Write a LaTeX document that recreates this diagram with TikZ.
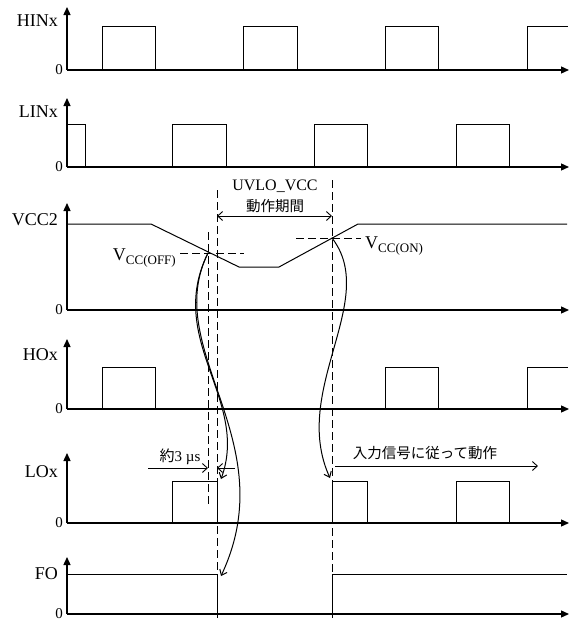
\documentclass[tikz,border=0pt]{standalone}
\usepackage{fontspec}
\setmainfont{Liberation Serif}
\newfontfamily\jp{Noto Sans CJK JP}
\usetikzlibrary{arrows.meta}
\begin{document}
\begin{tikzpicture}[x=1pt,y=-1pt,
  axis/.style={line width=1.3pt,-{Triangle[length=8pt,width=7pt]}},
  wave/.style={line width=1pt},
  guide/.style={line width=0.9pt,dash pattern=on 8pt off 4pt},
  curv/.style={line width=1pt,-{Straight Barb[length=5pt,width=8pt]}},
  dim/.style={line width=0.9pt,-{Straight Barb[length=5pt,width=9pt]}},
  sig/.style={anchor=east,inner sep=0pt,font=\fontsize{18}{20}\selectfont},
  zero/.style={anchor=east,inner sep=0pt,font=\fontsize{15}{16}\selectfont},
  jtxt/.style={inner sep=0pt,font=\jp\fontsize{14.5}{16}\selectfont},
  vlab/.style={inner sep=0pt,font=\fontsize{18}{20}\selectfont}]
\useasboundingbox (0,0) rectangle (570,622);

% labels
\node[sig] (hin) at (58,21) {HINx};
\node[zero] (z1) at (63,70) {0};
\node[sig] (lin) at (58,112) {LINx};
\node[zero] (z2) at (63,167) {0};
\node[sig] (vcc) at (58,220) {VCC2};
\node[zero] (z3) at (63,310) {0};
\node[sig] (hox) at (58,355) {HOx};
\node[zero] (z4) at (63,409) {0};
\node[sig] (lox) at (58,472) {LOx};
\node[zero] (z5) at (63,523) {0};
\node[sig] (fo) at (58,574) {FO};
\node[zero] (z6) at (63,614) {0};

% axes
\foreach \b/\t in {70/7,167/98,310/203,409/339,523/453,614/557}{
  \draw[axis] (67,\b) -- (569,\b);
  \draw[axis] (67,\b) -- (67,\t);
}

% HINx
\draw[wave] (102,70) |- (155,26) -- (155,70);
\draw[wave] (243,70) |- (297,26) -- (297,70);
\draw[wave] (385,70) |- (438,26) -- (438,70);
\draw[wave] (527,70) |- (568,26);
% LINx
\draw[wave] (67,124) -- (85,124) -- (85,167);
\draw[wave] (172,167) |- (226,124) -- (226,167);
\draw[wave] (314,167) |- (367,124) -- (367,167);
\draw[wave] (456,167) |- (509,124) -- (509,167);
% VCC2
\draw[wave] (67,224) -- (151,224) -- (239,267) -- (279,267) -- (358,224) -- (567,224);
% HOx
\draw[wave] (102,409) |- (155,367) -- (155,409);
\draw[wave] (385,409) |- (438,367) -- (438,409);
\draw[wave] (527,409) |- (568,367);
% LOx
\draw[wave] (172,523) |- (217,481) -- (217,523);
\draw[wave] (332,523) |- (367,481) -- (367,523);
\draw[wave] (456,523) |- (509,481) -- (509,523);
% FO
\draw[wave] (67,574) -- (217,574) -- (217,614);
\draw[wave] (332,614) -- (332,574) -- (567,574);

% guides
\coordinate (voff) at (208,253);
\coordinate (von) at (332,238);
\draw[guide] (208,232) -- (208,506);
\draw[guide] (217,190) -- (217,618);
\draw[guide] (332,180) -- (332,618);
\draw[guide] (180,253) -- (244,253);
\draw[guide] (296,238) -- (361,238);

% threshold labels
\node[vlab,anchor=base east] (loff) at (176,260) {V\raisebox{-4.5pt}{\fontsize{13}{13}\selectfont CC(OFF)}};
\node[vlab,anchor=base west] (lon) at (365,248) {V\raisebox{-4.5pt}{\fontsize{13}{13}\selectfont CC(ON)}};

% UVLO period
\node[inner sep=0pt,font=\fontsize{16}{18}\selectfont] (uvlo) at (275,186) {UVLO\_VCC};
\node[jtxt] (uvloj) at (275,206) {動作期間};
\coordinate (ua) at (217,216);
\coordinate (ub) at (332,216);
\draw[dim,{Straight Barb[length=5pt,width=9pt]}-{Straight Barb[length=5pt,width=9pt]}] (ua) -- (ub);

% 3us
\node[inner sep=0pt,font=\fontsize{15}{16}\selectfont] (t3) at (180,457) {{\jp 約}3 µs};
\coordinate (t3a) at (148,468);
\coordinate (t3b) at (208,468);
\coordinate (t3c) at (235,468);
\coordinate (t3d) at (217,468);
\draw[dim] (t3a) -- (t3b);
\draw[dim] (t3c) -- (t3d);

% follow input
\node[jtxt] (follow) at (425,453) {入力信号に従って動作};
\coordinate (fa) at (335,466);
\coordinate (fb) at (538,466);
\draw[dim] (fa) -- (fb);

% curved arrows
\coordinate (loA) at (221,479);
\coordinate (foB) at (221,576);
\coordinate (loC) at (330,478);
\draw[curv] (voff) .. controls (165,340) and (250,400) .. (loA);
\draw[curv] (voff) .. controls (160,350) and (285,440) .. (foB);
\draw[curv] (von) .. controls (380,300) and (290,390) .. (loC);
\end{tikzpicture}
\end{document}
